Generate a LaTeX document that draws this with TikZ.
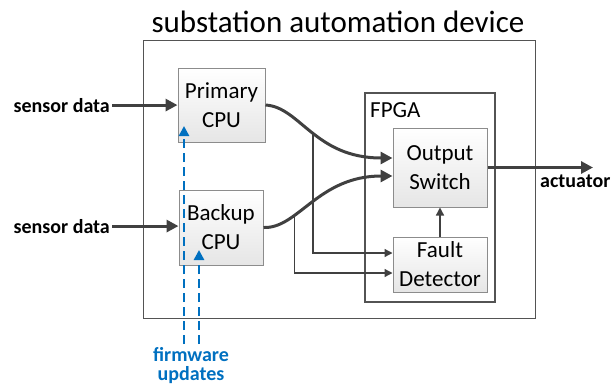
\documentclass[tikz,border=0pt]{standalone}
\usepackage{fontspec}
\setmainfont{Carlito}
\usetikzlibrary{arrows.meta,positioning,calc}
\definecolor{linegray}{HTML}{404040}
\definecolor{boxgray}{HTML}{8C8C8C}
\definecolor{fwblue}{HTML}{0070C0}

\begin{document}
\begin{tikzpicture}[x=1pt, y=-1pt,
    unit/.style={draw=boxgray, line width=1pt, top color=white, bottom color=black!10, align=center, font=\fontsize{23}{29}\selectfont, inner sep=0pt},
    frame/.style={draw=linegray!90, line width=1.3pt},
    lbl/.style={font=\bfseries\fontsize{20}{20}\selectfont, inner sep=2pt},
    arr/.style={-{Triangle[length=12pt,width=12pt]}, line width=3pt, draw=linegray},
    thinarr/.style={-{Triangle[length=8pt,width=8pt]}, line width=1.3pt, draw=linegray},
    fwarr/.style={-{Triangle[length=10pt,width=10pt]}, line width=2.5pt, draw=fwblue, dash pattern=on 9pt off 5pt}
]
\useasboundingbox (0,0) rectangle (613,386);

% device frame and FPGA
\node[anchor=base, inner sep=0pt, font=\fontsize{31}{31}\selectfont] (title) at (338,32) {substation automation device};
\node[frame, minimum width=392pt, minimum height=278pt] (dev) at (339.5,179.5) {};
\node[frame, minimum width=130pt, minimum height=209pt] (fpga) at (430,197.5) {};
\node[anchor=base west, inner sep=0pt, font=\fontsize{23}{29}\selectfont] (fpgalbl) at (370,117) {FPGA};

% units
\node[unit, minimum width=87pt, minimum height=74pt] (pcpu) at (221.5,105) {Primary\\CPU};
\node[unit, minimum width=84pt, minimum height=75pt] (bcpu) at (221,227.5) {Backup\\CPU};
\node[unit, minimum width=94pt, minimum height=79pt] (outsw) at (440,167.5) {Output\\Switch};
\node[unit, minimum width=94pt, minimum height=55pt] (fdet) at (440,264.5) {Fault\\Detector};

% labels
\node[lbl, anchor=base east] (sd1) at (112,112) {sensor data};
\node[lbl, anchor=base east] (sd2) at (112,233) {sensor data};
\node[lbl, anchor=base west, inner sep=0pt] (act) at (540,187) {actuator};
\node[lbl, inner sep=0pt, anchor=north, align=center, text=fwblue, font=\bfseries\fontsize{20}{19}\selectfont] (fw) at (191,347) {firmware\\updates};

\coordinate (acttip) at (593,167.5);
\coordinate (fwa) at (184,344);
\coordinate (fwb) at (199,344);

% data paths
\draw[arr] (sd1.east) -- (sd1.east -| pcpu.west);
\draw[arr] (sd2.east) -- (sd2.east -| bcpu.west);
\draw[arr] (pcpu.east) .. controls (300,107) and (315,158) .. coordinate[pos=0.5] (br1) ([yshift=9.5pt]outsw.west);
\draw[arr] (bcpu.east) .. controls (298,229) and (318,176) .. coordinate[pos=0.32] (br2) ([yshift=-8.5pt]outsw.west);
\draw[arr] (outsw.east) -- (acttip);

% fault detection taps
\draw[thinarr] (br1) |- ([yshift=11.5pt]fdet.west);
\draw[thinarr] (br2) |- ([yshift=-8.5pt]fdet.west);
\draw[thinarr] (fdet.north) -- (outsw.south);

% firmware updates
\draw[fwarr] (fwa) -- (fwa |- 0,126);
\draw[fwarr] (fwb) -- (fwb |- 0,250);
\end{tikzpicture}
\end{document}
